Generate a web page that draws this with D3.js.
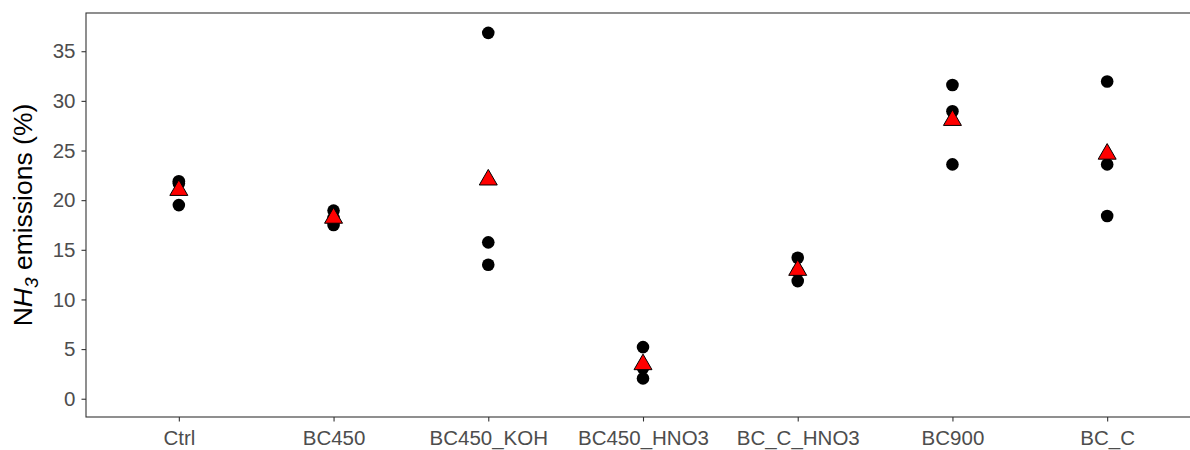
<!DOCTYPE html>
<html>
<head>
<meta charset="utf-8">
<script src="https://cdn.jsdelivr.net/npm/d3@7"></script>
<style>
  body { margin: 0; background: #fff; }
  svg { display: block; font-family: "Liberation Sans", Arial, sans-serif; }
</style>
</head>
<body>
<div id="chart"></div>
<script>
// treatments on the x axis
const categories = ["Ctrl", "BC450", "BC450_KOH", "BC450_HNO3", "BC_C_HNO3", "BC900", "BC_C"];
// replicate values (NH3 emissions, %), three per treatment
const replicates = [
  [21.9, 21.7, 19.5],
  [18.95, 18.2, 17.5],
  [36.85, 15.75, 13.5],
  [5.2, 3.1, 2.05],
  [14.2, 12.8, 11.85],
  [31.6, 28.95, 23.6],
  [31.95, 23.6, 18.4]
];
// treatment means (red triangles)
const means = [21.0, 18.2, 22.05, 3.45, 12.95, 28.05, 24.65];
const yTicks = [0, 5, 10, 15, 20, 25, 30, 35];

const width = 1190;
const height = 450;
const margin = { left: 86, top: 13, right: -10, bottom: 33 };

const svg = d3.select("#chart").append("svg")
  .attr("width", width)
  .attr("height", height);

const xScale = d3.scalePoint()
  .domain(categories)
  .range([margin.left, width - margin.right])
  .padding(0.6);

const yScale = d3.scaleLinear()
  .domain([-1.84, 38.85])
  .range([height - margin.bottom, margin.top]);

// panel border
svg.append("rect")
  .attr("x", margin.left)
  .attr("y", margin.top)
  .attr("width", width - margin.right - margin.left)
  .attr("height", height - margin.bottom - margin.top)
  .attr("fill", "none")
  .attr("stroke", "#333")
  .attr("stroke-width", 1.1);

// AXES
const xAxis = d3.axisBottom(xScale).tickSizeOuter(0).tickSize(4.5).tickPadding(9);
const gx = svg.append("g")
  .attr("transform", "translate(0," + (height - margin.bottom) + ")")
  .call(xAxis);
gx.select(".domain").remove();
gx.selectAll(".tick line").attr("stroke", "#333").attr("stroke-width", 1.1);
gx.selectAll(".tick text")
  .attr("fill", "#4D4D4D")
  .style("font-size", "20.5px")
  .style("font-family", "'Liberation Sans', Arial, sans-serif");

const yAxis = d3.axisLeft(yScale).tickValues(yTicks).tickSizeOuter(0).tickSize(4.5).tickPadding(6);
const gy = svg.append("g")
  .attr("transform", "translate(" + margin.left + ",0)")
  .call(yAxis);
gy.select(".domain").remove();
gy.selectAll(".tick line").attr("stroke", "#333").attr("stroke-width", 1.1);
gy.selectAll(".tick text")
  .attr("fill", "#4D4D4D")
  .style("font-size", "20.5px")
  .style("font-family", "'Liberation Sans', Arial, sans-serif");

// y axis title: NH3 with italic H and subscript 3
const title = svg.append("text")
  .attr("transform", "translate(32," + ((margin.top + height - margin.bottom) / 2) + ") rotate(-90)")
  .attr("text-anchor", "middle")
  .attr("fill", "#000")
  .style("font-size", "26.5px");
title.append("tspan").text("N");
title.append("tspan").style("font-style", "italic").text("H");
title.append("tspan").attr("dy", 6).style("font-size", "19px").style("font-style", "italic").text("3");
title.append("tspan").attr("dy", -6).text(" emissions (%)");

// POINTS
const points = [];
replicates.forEach(function (vals, i) {
  vals.forEach(function (v) { points.push({ cat: categories[i], value: v }); });
});

svg.append("g").selectAll("circle")
  .data(points)
  .enter()
  .append("circle")
  .attr("cx", (d) => xScale(d.cat))
  .attr("cy", (d) => yScale(d.value))
  .attr("r", 6.3)
  .attr("fill", "#000");

const triangle = d3.symbol().type(d3.symbolTriangle).size(140);
svg.append("g").selectAll("path")
  .data(means)
  .enter()
  .append("path")
  .attr("d", triangle)
  .attr("transform", (d, i) => "translate(" + xScale(categories[i]) + "," + yScale(d) + ")")
  .attr("fill", "#FF0000")
  .attr("stroke", "#000")
  .attr("stroke-width", 1);
</script>
</body>
</html>
